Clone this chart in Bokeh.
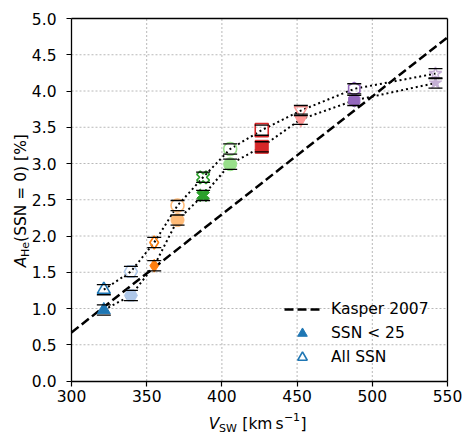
import math
from bokeh.plotting import figure
from bokeh.models import (ColumnDataSource, Legend, LegendItem, FixedTicker,
                          Range1d, NumeralTickFormatter, LinearAxis)
from bokeh.embed import file_html
from bokeh.resources import INLINE

# ---------------- data ----------------
v_sw = [321.5, 339.5, 355.0, 370.5, 387.5, 405.5, 426.5, 452.5, 488.0, 542.0]
a_he_ssn25 = [0.98, 1.18, 1.59, 2.22, 2.56, 2.99, 3.23, 3.61, 3.87, 4.11]
a_he_all = [1.26, 1.51, 1.91, 2.42, 2.81, 3.20, 3.46, 3.73, 4.03, 4.24]
err_ssn25 = [0.07, 0.07, 0.07, 0.07, 0.07, 0.07, 0.07, 0.07, 0.07, 0.07]
err_all = [0.07, 0.07, 0.07, 0.07, 0.07, 0.07, 0.07, 0.07, 0.07, 0.07]
kasper_v = [300.0, 550.0]
kasper_a = [0.67, 4.74]
x_ticks = [300, 350, 400, 450, 500, 550]
y_ticks = [0.0, 0.5, 1.0, 1.5, 2.0, 2.5, 3.0, 3.5, 4.0, 4.5, 5.0]
legend_labels = ["Kasper 2007", "SSN < 25", "All SSN"]

# ---------------- styles / layout ----------------
colors = ["#1f77b4", "#aec7e8", "#ff7f0e", "#ffbb78", "#2ca02c",
          "#98df8a", "#d62728", "#ff9896", "#9467bd", "#c5b0d5"]
markers = ["triangle", "hex", "diamond", "circle", "plus",
           "circle", "square", "inverted_triangle", "hex", "star"]
angles = [0, 0, 0, 0, math.pi / 4, 0, 0, 0, math.pi / 6, 0]
FONT = "DejaVu Sans"
FS = "15.5px"
FS_SMALL = "11px"

W, H = 466, 436            # canvas size
LEFT, TOP = 71, 18         # position of the axes box in the canvas
BOX_W, BOX_H = 376, 362.5  # size of the axes box
BOTTOM = TOP + BOX_H

x0, x1 = x_ticks[0], x_ticks[-1]
y0, y1 = y_ticks[0], y_ticks[-1]
kx = BOX_W / (x1 - x0)
ky = BOX_H / (y1 - y0)
x_range = Range1d(x0 - LEFT / kx, x0 + (W - LEFT) / kx)
y_range = Range1d(y1 - (H - TOP) / ky, y1 + TOP / ky)

p = figure(width=W, height=H, output_backend="svg", toolbar_location=None,
           x_range=x_range, y_range=y_range, min_border=0)
p.background_fill_color = "white"
p.border_fill_color = "white"
p.outline_line_color = None
p.grid.visible = False

# grid (dotted) inside the axes box
for t in x_ticks[1:-1]:
    p.segment([t], [y0], [t], [y1], line_color="#b8b8b8", line_width=1, line_dash="2 2")
for t in y_ticks[1:-1]:
    p.segment([x0], [t], [x1], [t], line_color="#b8b8b8", line_width=1, line_dash="2 2")

p.xaxis.fixed_location = y0
p.yaxis.fixed_location = x0
p.xaxis.bounds = (x0, x1)
p.yaxis.bounds = (y0, y1)
for ax in (p.xaxis[0], p.yaxis[0]):
    ax.axis_label = None
    ax.axis_line_color = "black"
    ax.axis_line_width = 1.3
    ax.major_tick_line_color = "black"
    ax.major_tick_line_width = 1.2
    ax.major_tick_out = 5
    ax.major_tick_in = 0
    ax.minor_tick_line_color = None
    ax.major_label_text_font = FONT
    ax.major_label_text_font_size = FS
    ax.major_label_text_color = "black"
p.xaxis.ticker = FixedTicker(ticks=x_ticks)
p.yaxis.ticker = FixedTicker(ticks=y_ticks)
p.yaxis.formatter = NumeralTickFormatter(format="0.0")
p.xaxis.major_label_standoff = 4
p.yaxis.major_label_standoff = 10

# top and right border of the box
top_ax = LinearAxis(fixed_location=y1, bounds=(x0, x1), ticker=FixedTicker(ticks=[]),
                    axis_line_color="black", axis_line_width=1.3,
                    major_tick_line_color=None, minor_tick_line_color=None,
                    major_label_text_alpha=0.0)
right_ax = LinearAxis(fixed_location=x1, bounds=(y0, y1), ticker=FixedTicker(ticks=[]),
                      axis_line_color="black", axis_line_width=1.3,
                      major_tick_line_color=None, minor_tick_line_color=None,
                      major_label_text_alpha=0.0)
p.add_layout(top_ax, "above")
p.add_layout(right_ax, "right")

# Kasper 2007 relation
kasper = p.line(kasper_v, kasper_a, line_color="black", line_width=2.5,
                line_dash="9 4")

# connecting dotted lines
p.line(v_sw, a_he_ssn25, line_color="black", line_width=2, line_dash="2 3")
p.line(v_sw, a_he_all, line_color="black", line_width=2, line_dash="2 3")

src_f = ColumnDataSource(dict(x=v_sw, y=a_he_ssn25, c=colors, m=markers, a=angles))
src_o = ColumnDataSource(dict(x=v_sw, y=a_he_all, c=colors, m=markers, a=angles))

filled = p.scatter("x", "y", source=src_f, marker="m", angle="a", size=13,
                   fill_color="c", line_color="c", line_width=1)
opened = p.scatter("x", "y", source=src_o, marker="m", angle="a", size=13,
                   fill_color="white", fill_alpha=0.0, line_color="c", line_width=1.6)

# error bar caps
for ys, es in ((a_he_ssn25, err_ssn25), (a_he_all, err_all)):
    up = [y + e for y, e in zip(ys, es)]
    lo = [y - e for y, e in zip(ys, es)]
    p.scatter(v_sw, up, marker="dash", size=14, line_color="black", line_width=1.3)
    p.scatter(v_sw, lo, marker="dash", size=14, line_color="black", line_width=1.3)

legend = Legend(items=[LegendItem(label=legend_labels[0], renderers=[kasper]),
                       LegendItem(label=legend_labels[1], renderers=[filled], index=0),
                       LegendItem(label=legend_labels[2], renderers=[opened], index=0)],
                location=(LEFT + 213, (H - BOTTOM) + 11.5), orientation="vertical",
                glyph_width=36, glyph_height=24, label_height=24, spacing=0,
                label_standoff=11, padding=0, margin=0,
                background_fill_alpha=0.0, border_line_alpha=0.0,
                label_text_font=FONT, label_text_font_size=FS,
                label_text_color="black")
p.add_layout(legend)


def axis_text(txt, side, center_px, standoff, size=FS, style="normal"):
    """An axis title piece, centred at center_px (canvas pixels) along the axis."""
    if side == "below":
        c = x0 + (center_px - LEFT) / kx
        bounds, loc = (c - 0.5, c + 0.5), y0
    else:
        c = y0 + (BOTTOM - center_px) / ky
        bounds, loc = (c - 0.005, c + 0.005), x0
    ax = LinearAxis(fixed_location=loc, bounds=bounds, ticker=FixedTicker(ticks=[]),
                    axis_line_color=None, major_tick_line_color=None,
                    minor_tick_line_color=None, major_tick_out=0, major_tick_in=0,
                    minor_tick_out=0, minor_tick_in=0, major_label_standoff=0,
                    major_label_text_alpha=0.0,
                    axis_label=txt, axis_label_standoff=standoff,
                    axis_label_text_font=FONT, axis_label_text_font_size=size,
                    axis_label_text_font_style=style, axis_label_text_color="black")
    p.add_layout(ax, side)


# x-axis title: V_SW [km s^-1]
axis_text("V", "below", 213.3, 33, style="italic")
axis_text("SW", "below", 227.5, 40, size=FS_SMALL)
axis_text("[km\u2009s", "below", 262.6, 33)
axis_text("\u22121", "below", 291.6, 31, size=FS_SMALL)
axis_text("]", "below", 303.0, 33)

# y-axis title: A_He(SSN = 0) [%]
axis_text("A", "left", 261.7, 42, style="italic")
axis_text("He", "left", 248.9, 40, size=FS_SMALL)
axis_text("(SSN = 0) [%]", "left", 187.5, 42)

open("out.html", "w").write(file_html(p, INLINE))
